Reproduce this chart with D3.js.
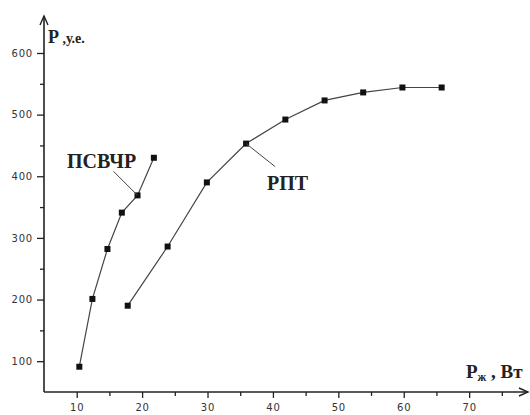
<!DOCTYPE html>
<html>
<head>
<meta charset="utf-8">
<script src="https://cdn.jsdelivr.net/npm/d3@7"></script>
<style>
  html, body { margin: 0; padding: 0; background: #fff; }
  svg { display: block; }
  .tick text { font-family: "DejaVu Sans", sans-serif; font-size: 10px; fill: #333; letter-spacing: 0.8px; }
  .lbl { font-family: "Liberation Serif", "Times New Roman", serif; font-weight: bold; fill: #222; }
</style>
</head>
<body>
<svg id="chart" width="530" height="415"></svg>
<script>
// ---- data ----
const psvchrX = [10.4, 12.4, 14.7, 16.9, 19.3, 21.8];
const psvchrY = [91, 201, 282, 341, 369, 430];
const rptX = [17.8, 23.9, 29.9, 35.9, 41.9, 47.9, 53.8, 59.8, 65.8];
const rptY = [190, 286, 390, 453, 492, 523, 536, 544, 544];
const xTicks = [10, 20, 30, 40, 50, 60, 70];
const xMinor = [15, 25, 35, 45, 55, 65, 75];
const yTicks = [100, 200, 300, 400, 500, 600];
const yMinor = [150, 250, 350, 450, 550];
const seriesNames = ["ПСВЧР", "РПТ"];

const svg = d3.select("#chart");
const x = d3.scaleLinear().domain([5, 79]).range([44, 528]);
const y = d3.scaleLinear().domain([50, 660]).range([392, 16]);

const axisColor = "#222";

// y axis
const gy = svg.append("g").attr("transform", `translate(${x(5)},0)`)
  .call(d3.axisLeft(y).tickValues(yTicks).tickSize(7).tickPadding(4));
gy.select(".domain").remove();
gy.selectAll(".tick line").attr("stroke", axisColor).attr("stroke-width", 1.3);
const gym = svg.append("g").attr("transform", `translate(${x(5)},0)`)
  .call(d3.axisLeft(y).tickValues(yMinor).tickSize(4).tickFormat(""));
gym.select(".domain").remove();
gym.selectAll(".tick line").attr("stroke", axisColor).attr("stroke-width", 1.3);

// x axis
const gx = svg.append("g").attr("transform", `translate(0,${y(50)})`)
  .call(d3.axisBottom(x).tickValues(xTicks).tickSize(6).tickPadding(6));
gx.select(".domain").remove();
gx.selectAll(".tick line").attr("stroke", axisColor).attr("stroke-width", 1.3);
const gxm = svg.append("g").attr("transform", `translate(0,${y(50)})`)
  .call(d3.axisBottom(x).tickValues(xMinor).tickSize(4).tickFormat(""));
gxm.select(".domain").remove();
gxm.selectAll(".tick line").attr("stroke", axisColor).attr("stroke-width", 1.3);

// axis lines with arrows
const x0 = x(5), y0 = y(50);
svg.append("line").attr("x1", x0).attr("y1", y0).attr("x2", x0).attr("y2", y(660))
  .attr("stroke", axisColor).attr("stroke-width", 1.6);
svg.append("path").attr("d", `M${x0-4},${y(660)+9} L${x0},${y(660)} L${x0+4},${y(660)+9}`)
  .attr("fill", "none").attr("stroke", axisColor).attr("stroke-width", 1.4);
svg.append("line").attr("x1", x0).attr("y1", y0).attr("x2", x(79)).attr("y2", y0)
  .attr("stroke", axisColor).attr("stroke-width", 1.6);
svg.append("path").attr("d", `M${x(79)-9},${y0-4} L${x(79)},${y0} L${x(79)-9},${y0+4}`)
  .attr("fill", "none").attr("stroke", axisColor).attr("stroke-width", 1.4);

// series
const line = d3.line().x(d => x(d[0])).y(d => y(d[1]));
const series = [
  d3.zip(psvchrX, psvchrY),
  d3.zip(rptX, rptY)
];
series.forEach(pts => {
  svg.append("path").datum(pts).attr("d", line)
    .attr("fill", "none").attr("stroke", "#444").attr("stroke-width", 1.2);
  svg.selectAll(null).data(pts).enter().append("rect")
    .attr("x", d => x(d[0]) - 3).attr("y", d => y(d[1]) - 3)
    .attr("width", 6).attr("height", 6).attr("fill", "#111");
});

// series labels with leader lines
const pA = series[0][4];
svg.append("line").attr("x1", x(pA[0]) - 24).attr("y1", y(pA[1]) - 24)
  .attr("x2", x(pA[0])).attr("y2", y(pA[1])).attr("stroke", "#444").attr("stroke-width", 1);
svg.append("text").attr("class", "lbl").attr("x", 67).attr("y", 168)
  .attr("font-size", 20).text(seriesNames[0]);

const pB = series[1][3];
svg.append("line").attr("x1", x(pB[0])).attr("y1", y(pB[1]))
  .attr("x2", x(pB[0]) + 29).attr("y2", y(pB[1]) + 23).attr("stroke", "#444").attr("stroke-width", 1);
svg.append("text").attr("class", "lbl").attr("x", 267).attr("y", 190)
  .attr("font-size", 20).text(seriesNames[1]);

// axis titles
const yt = svg.append("text").attr("class", "lbl").attr("x", 48).attr("y", 43);
yt.append("tspan").attr("font-size", 18).text("P");
yt.append("tspan").attr("font-size", 14).text(" ,у.е.");

const xt = svg.append("text").attr("class", "lbl").attr("x", 466).attr("y", 378);
xt.append("tspan").attr("font-size", 19).text("P");
xt.append("tspan").attr("font-size", 12).attr("dy", 3).text("ж");
xt.append("tspan").attr("font-size", 19).attr("dy", -3).text(" , Вт");
</script>
</body>
</html>
